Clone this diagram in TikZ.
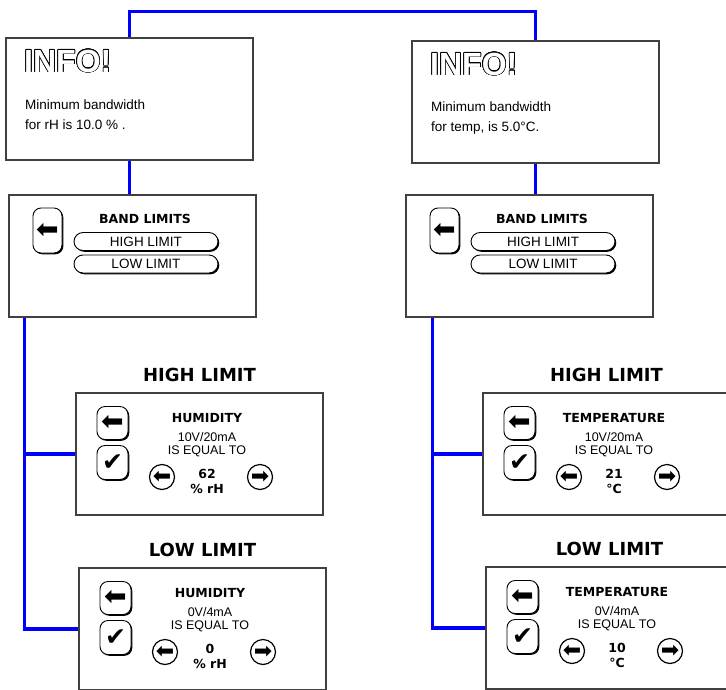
\documentclass[tikz,border=0pt]{standalone}
\usepackage{fontspec}
\setmainfont{Liberation Sans}
\newfontfamily\symfont{DejaVu Sans}
\usepackage{contour}
\contourlength{0.7pt}
\usetikzlibrary{positioning,shadows}

\tikzset{
  screen/.style={draw=black!75, line width=1.1pt, fill=white, minimum width=247pt, minimum height=122pt, inner sep=0pt},
  link/.style={draw=blue, line width=3.5pt},
  btn/.style={draw, line width=0.9pt, fill=white, rounded corners=8pt, inner sep=0pt,
    drop shadow={shadow xshift=1.3pt, shadow yshift=-1.3pt, fill=black, opacity=1}},
  pill/.style={btn, rounded corners=9pt, minimum width=144pt, minimum height=18pt, font=\fontsize{13.5}{13.5}\selectfont},
  roundbtn/.style={circle, draw, line width=1.2pt, minimum size=25pt, inner sep=0pt, font=\symfont\fontsize{22}{22}\selectfont},
  heading/.style={font=\symfont\bfseries\fontsize{18}{18}\selectfont, inner sep=0pt},
  boldtext/.style={font=\symfont\bfseries\fontsize{12.5}{12.5}\selectfont, inner sep=0pt},
  plaintext/.style={font=\fontsize{12.5}{13}\selectfont, inner sep=0pt, align=center},
}

\begin{document}
\begin{tikzpicture}[x=1pt, y=-1pt]
  \useasboundingbox (0,0) rectangle (726,689);

  % info screens
  \node[screen] (infoL) at (129.5,99) {};
  \node[screen] (infoR) at (535.5,102) {};
  \node[anchor=base west, inner sep=0pt, font=\bfseries\fontsize{32}{32}\selectfont] (infoLtag) at (24,72) {\textcolor{white}{\contour{black}{INFO!}}};
  \node[anchor=base west, inner sep=0pt, font=\bfseries\fontsize{32}{32}\selectfont] (infoRtag) at (430,75) {\textcolor{white}{\contour{black}{INFO!}}};
  \node[anchor=base west, align=left, inner sep=0pt, font=\fontsize{13.5}{20}\selectfont] (infoLmsg) at (25,129.5) {Minimum bandwidth\\for rH is 10.0 \% .};
  \node[anchor=base west, align=left, inner sep=0pt, font=\fontsize{13.5}{20}\selectfont] (infoRmsg) at (431,131.5) {Minimum bandwidth\\for temp, is 5.0°C.};

  % band limit menus
  \foreach \nm/\px in {bandL/9, bandR/406}{
    \begin{scope}[shift={(\px,195)}]
      \node[screen] (\nm) at (123.5,61) {};
      \node[btn, minimum width=29pt, minimum height=45pt, font=\symfont\fontsize{27}{27}\selectfont] (\nm-back) at (38.5,35.5) {⬅};
      \node[boldtext] (\nm-title) at (136,24) {BAND LIMITS};
      \node[pill] (\nm-high) at (137,46.5) {HIGH LIMIT};
      \node[pill] (\nm-low) at (137,69) {LOW LIMIT};
    \end{scope}
  }

  % limit setting screens
  \foreach \nm/\px/\py/\hd/\qty/\vlo/\ilo/\vv/\un in {
      highL/76/393/HIGH LIMIT/HUMIDITY/10V/20mA/62/\% rH,
      lowL/79/568/LOW LIMIT/HUMIDITY/0V/4mA/0/\% rH,
      highR/483/393/HIGH LIMIT/TEMPERATURE/10V/20mA/21/°C,
      lowR/486/567/LOW LIMIT/TEMPERATURE/0V/4mA/10/°C}{
    \begin{scope}[shift={(\px,\py)}]
      \node[screen] (\nm) at (123.5,61) {};
      \node[heading, above=11pt of \nm] (\nm-head) {\hd};
      \node[btn, minimum width=31pt, minimum height=33pt, font=\symfont\fontsize{27}{27}\selectfont] (\nm-back) at (36.5,30) {⬅};
      \node[btn, minimum width=31pt, minimum height=34pt, font=\symfont\fontsize{25}{25}\selectfont] (\nm-ok) at (36.5,69.5) {✔};
      \node[boldtext] (\nm-qty) at (131,25) {\qty};
      \node[plaintext] (\nm-in) at (131,51.5) {\vlo/\ilo\\IS EQUAL TO};
      \node[roundbtn] (\nm-dn) at (86,84) {⬅};
      \node[roundbtn] (\nm-up) at (184,84) {➡};
      \node[boldtext, align=center, font=\symfont\bfseries\fontsize{12.5}{15}\selectfont] (\nm-val) at (131,88) {\vv\\\un};
    \end{scope}
  }

  % connections
  \draw[link] (infoL.north) -- ++(0,-26) -| (infoR.north);
  \draw[link] (infoL.south) -- (infoL.south |- bandL.north);
  \draw[link] (infoR.south) -- (infoR.south |- bandR.north);
  \coordinate[right=16pt of bandL.south west] (spineL);
  \coordinate[right=27pt of bandR.south west] (spineR);
  \draw[link] (spineL) |- (lowL.west);
  \draw[link] (spineL |- highL.west) -- (highL.west);
  \draw[link] (spineR) |- (lowR.west);
  \draw[link] (spineR |- highR.west) -- (highR.west);
\end{tikzpicture}
\end{document}
